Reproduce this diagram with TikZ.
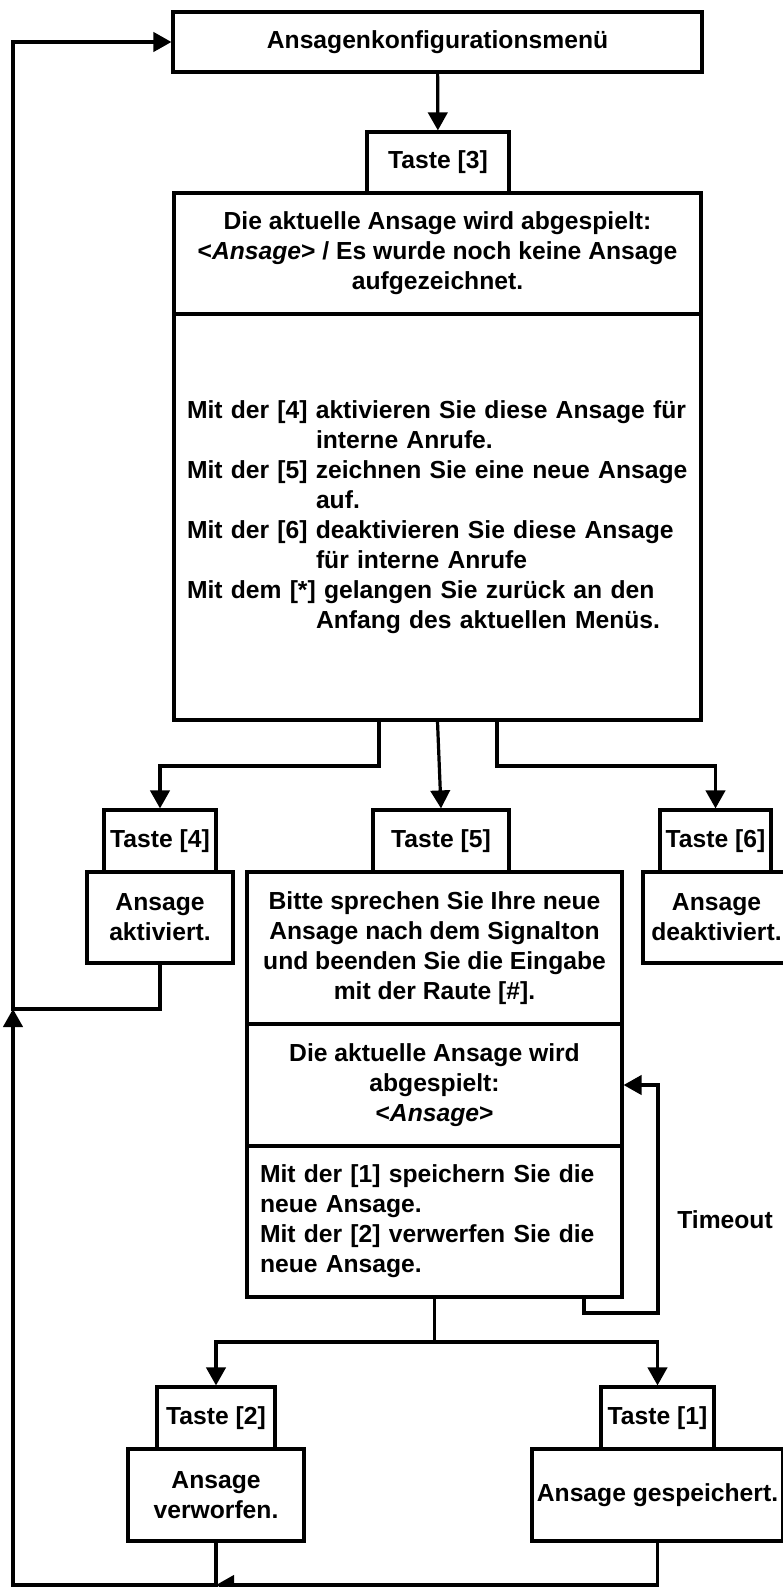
\documentclass[tikz,border=0pt]{standalone}
\usepackage{fontspec}
\setmainfont{Liberation Sans}
\usetikzlibrary{arrows.meta}

\tikzset{
  box/.style={draw, line width=2.4pt, inner sep=0pt, align=center,
    font=\bfseries\fontsize{18.5}{22.5}\selectfont},
  lbl/.style={inner sep=0pt, font=\bfseries\fontsize{18.5}{22.5}\selectfont},
  flow/.style={line width=2.4pt, -{Triangle[length=13.5pt,width=14.5pt]}},
  link/.style={line width=2.4pt}
}

\begin{document}
\begin{tikzpicture}[x=0.75pt, y=-0.75pt]
            \useasboundingbox (0,0) rectangle (782,1587);

            \node [box, minimum width=396.75pt, minimum height=45pt] (menu) at (437.5,42) {Ansagenkonfigurationsmenü};
            \node [box, minimum width=106.5pt, minimum height=45.75pt] (t3) at (438,162.5) {Taste [3]};
            \node [box, minimum width=395.25pt, minimum height=90.75pt] (play) at (437.5,253.5)
                {Die aktuelle Ansage wird abgespielt:\\<\textit{Ansage}> / Es wurde noch keine Ansage\\aufgezeichnet.};
            \node [box, align=left, text width=375.75pt, inner xsep=9.75pt, minimum height=304.5pt] (opts) at (437.5,517)
                {Mit der [4] aktivieren Sie diese Ansage für\\
                 \hspace*{96.75pt}interne Anrufe.\\
                 Mit der [5] zeichnen Sie eine neue Ansage\\
                 \hspace*{96.75pt}auf.\\
                 Mit der [6] deaktivieren Sie diese Ansage\\
                 \hspace*{96.75pt}für interne Anrufe\\
                 Mit dem [*] gelangen Sie zurück an den\\
                 \hspace*{96.75pt}Anfang des aktuellen Menüs.};

            \node [box, minimum width=84pt, minimum height=46.5pt] (t4) at (160,841) {Taste [4]};
            \node [box, minimum width=109.5pt, minimum height=68.25pt] (akt) at (160,917.5) {Ansage\\aktiviert.};
            \node [box, minimum width=102pt, minimum height=46.5pt] (t5) at (441,841) {Taste [5]};
            \node [box, minimum width=83.25pt, minimum height=46.5pt] (t6) at (715.5,841) {Taste [6]};
            \node [box, minimum width=110.25pt, minimum height=68.25pt] (deakt) at (716.5,917.5) {Ansage\\deaktiviert.};

            \node [box, minimum width=281.25pt, minimum height=114pt] (rec) at (434.5,948)
                {Bitte sprechen Sie Ihre neue\\Ansage nach dem Signalton\\und beenden Sie die Eingabe\\mit der Raute [\#].};
            \node [box, minimum width=281.25pt, minimum height=91.5pt] (play2) at (434.5,1085)
                {Die aktuelle Ansage wird\\abgespielt:\\<\textit{Ansage}>};
            \node [box, align=left, text width=261.75pt, inner xsep=9.75pt, minimum height=113.25pt] (save) at (434.5,1221.5)
                {Mit der [1] speichern Sie die\\neue Ansage.\\Mit der [2] verwerfen Sie die\\neue Ansage.};
            \node [lbl] (tmolbl) at (725,1220) {Timeout};

            \node [box, minimum width=88.5pt, minimum height=46.5pt] (t2) at (216,1418) {Taste [2]};
            \node [box, minimum width=132pt, minimum height=69pt] (verw) at (216,1495) {Ansage\\verworfen.};
            \node [box, minimum width=84.75pt, minimum height=46.5pt] (t1) at (657.5,1418) {Taste [1]};
            \node [box, minimum width=188.25pt, minimum height=69pt] (gesp) at (657.5,1495) {Ansage gespeichert.};

            \coordinate (brL) at (379,766);
            \coordinate (brR) at (497,766);
            \coordinate (brS) at (434.5,1342);
            \coordinate (retA) at (13,1009);
            \coordinate (retB) at (13,1585);
            \coordinate (tmoA) at (584,1313);
            \coordinate (tmoB) at (658,1313);

            \draw [flow] (menu) -- (t3);
            \draw [flow] (brL |- opts.south) -- (brL) -| (t4.north);
            \draw [flow] (opts.south) -- (t5.north);
            \draw [flow] (brR |- opts.south) -- (brR) -| (t6.north);

            \draw [flow] (akt.south) |- (retA) |- (menu.west);
            \draw [flow] (verw.south) |- (retB) -- (retA);
            \draw [flow] (gesp.south) |- (verw.south |- retB);

            \draw [flow] (tmoA |- save.south) -- (tmoA) -- (tmoB) |- (play2.east);
            \draw [link] (save.south) -- (brS);
            \draw [flow] (brS) -| (t2.north);
            \draw [flow] (brS) -| (t1.north);
        \end{tikzpicture}
\end{document}
